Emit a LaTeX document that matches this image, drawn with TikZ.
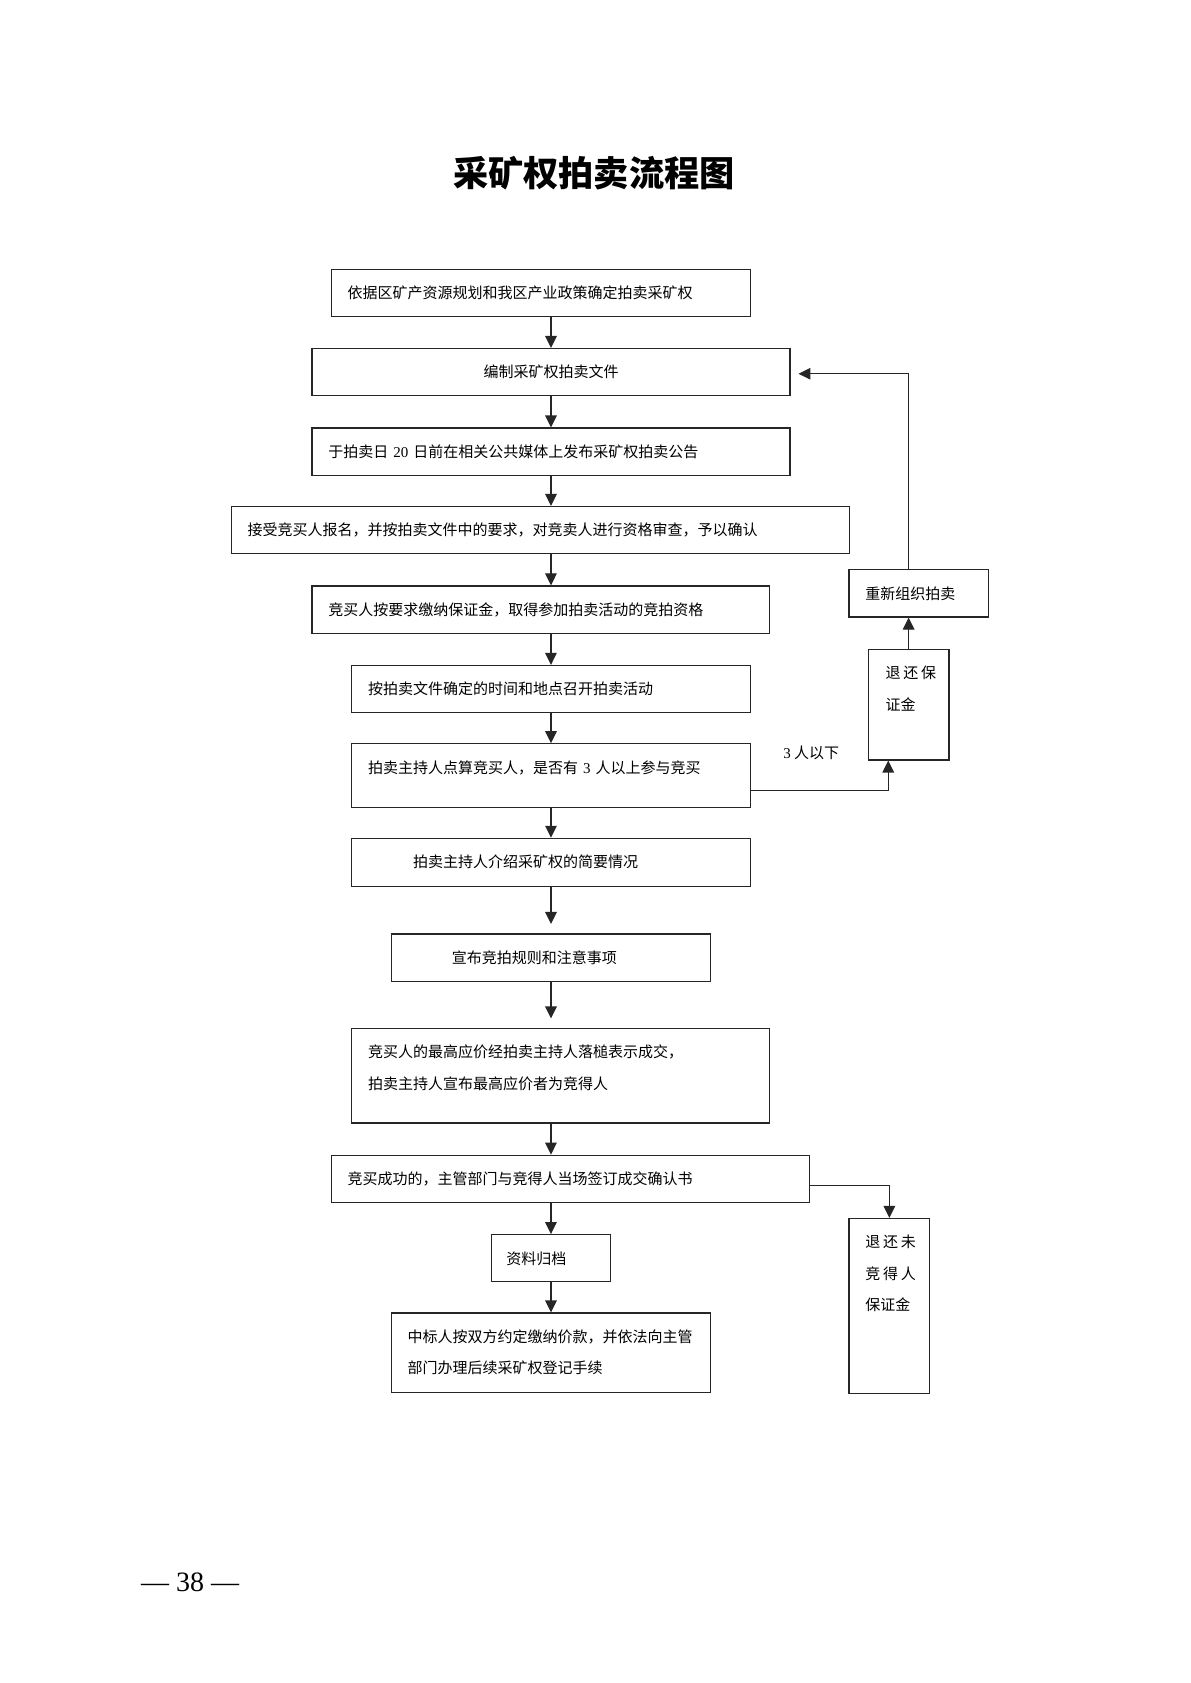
\documentclass[tikz,border=0pt]{standalone}
\usepackage{fontspec}
\setmainfont{Liberation Serif}
\newfontfamily\cjk{Noto Sans CJK SC}
\newfontfamily\lat{Liberation Serif}
\usetikzlibrary{arrows.meta}
\newcommand\bodyfont{\cjk\fontsize{7.5pt}{15.7pt}\selectfont}
\tikzset{
  bx/.style={draw=black!85, line width=0.6pt, inner sep=0pt, anchor=north west, align=left, font=\bodyfont},
  one/.style={text height=14.7pt, text depth=8.9pt},
  arr/.style={-{Triangle[width=5.8pt,length=6pt]}, line width=0.6pt, draw=black!85},
}
\begin{document}
\begin{tikzpicture}[x=0.537pt, y=-0.537pt]
\fill[white] (0,0) rectangle (1108,1567);
\useasboundingbox (0,0) rectangle (1108,1567);

\node[font=\cjk\bfseries\fontsize{17.6pt}{17.6pt}\selectfont, inner sep=0pt] (title) at (553,161) {采矿权拍卖流程图};

% main column
\node[bx, one, text width=209.4pt] (b1) at (308,250) {\hspace*{8.1pt}依据区矿产资源规划和我区产业政策确定拍卖采矿权};
\node[bx, one, text width=239.0pt, align=center] (b2) at (290,324) {编制采矿权拍卖文件};
\node[bx, one, text width=239.0pt] (b3) at (290,398) {\hspace*{8.1pt}于拍卖日 {\lat 20} 日前在相关公共媒体上发布采矿权拍卖公告};
\node[bx, one, text width=308.8pt] (b4) at (215,471) {\hspace*{8.1pt}接受竞买人报名，并按拍卖文件中的要求，对竞卖人进行资格审查，予以确认};
\node[bx, one, text width=228.8pt] (b5) at (290,545) {\hspace*{8.1pt}竞买人按要求缴纳保证金，取得参加拍卖活动的竞拍资格};
\node[bx, one, text width=199.2pt] (b6) at (327,619) {\hspace*{8.1pt}按拍卖文件确定的时间和地点召开拍卖活动};
\node[bx, text width=199.2pt, text height=14.7pt, text depth=17.0pt] (b7) at (327,692) {\hspace*{8.1pt}拍卖主持人点算竞买人，是否有 {\lat 3} 人以上参与竞买};
\node[bx, text width=199.2pt, text height=14.7pt, text depth=9.5pt] (b8) at (327,780) {\hspace*{30.6pt}拍卖主持人介绍采矿权的简要情况};
\node[bx, one, text width=159.5pt] (b9) at (364,869) {\hspace*{30.1pt}宣布竞拍规则和注意事项};
\node[bx, text width=208.9pt, text height=14.7pt, text depth=32.6pt] (b10) at (327,957) {\hspace*{8.1pt}\begin{tabular}[t]{@{}l@{}}竞买人的最高应价经拍卖主持人落槌表示成交，\\拍卖主持人宣布最高应价者为竞得人\end{tabular}};
\node[bx, one, text width=239.0pt] (b11) at (308,1075) {\hspace*{8.1pt}竞买成功的，主管部门与竞得人当场签订成交确认书};
\node[bx, one, text width=59.6pt] (b12) at (457,1149) {\hspace*{7.5pt}资料归档};
\node[bx, text width=159.5pt, text height=14.5pt, text depth=25.2pt] (b13) at (364,1222) {\hspace*{8.0pt}\begin{tabular}[t]{@{}l@{}}中标人按双方约定缴纳价款，并依法向主管\\部门办理后续采矿权登记手续\end{tabular}};

% right column
\node[bx, one, text width=69.8pt] (r1) at (790,530) {\hspace*{8.1pt}重新组织拍卖};
\node[bx, text width=40.3pt, text height=14.7pt, text depth=40.6pt] (r2) at (808,604) {\hspace*{8.6pt}\begin{tabular}[t]{@{}l@{}}退\kern1.4pt 还\kern1.4pt 保\\证金\end{tabular}};
\node[bx, text width=40.3pt, text height=14.7pt, text depth=72.8pt] (r3) at (790,1134) {\hspace*{8.1pt}\begin{tabular}[t]{@{}l@{}}退\kern1.4pt 还\kern1.4pt 未\\竞\kern1.4pt 得\kern1.4pt 人\\保证金\end{tabular}};

\node[font=\bodyfont, anchor=west, inner sep=0pt] (lbl) at (729,701) {{\lat 3} 人以下};

\node[font=\lat\fontsize{14pt}{14pt}\selectfont, inner sep=0pt] (pg) at (177,1473) {— 38 —};

% connectors
\coordinate (sp) at (513,0);
\coordinate (vx) at (846,0);
\coordinate (vz) at (827,0);
\coordinate (vy) at (0,348);
\coordinate (y7) at (0,736);
\coordinate (y11) at (0,1104);

\draw[arr] (b1.south -| sp) -- (b2.north -| sp);
\draw[arr] (b2.south -| sp) -- (b3.north -| sp);
\draw[arr] (b3.south -| sp) -- (b4.north -| sp);
\draw[arr] (b4.south -| sp) -- (b5.north -| sp);
\draw[arr] (b5.south -| sp) -- (b6.north -| sp);
\draw[arr] (b6.south -| sp) -- (b7.north -| sp);
\draw[arr] (b7.south -| sp) -- (b8.north -| sp);
\draw[arr, shorten >=4.7pt] (b8.south -| sp) -- (b9.north -| sp);
\draw[arr, shorten >=4.7pt] (b9.south -| sp) -- (b10.north -| sp);
\draw[arr] (b10.south -| sp) -- (b11.north -| sp);
\draw[arr] (b11.south -| sp) -- (b12.north -| sp);
\draw[arr] (b12.south -| sp) -- (b13.north -| sp);

\draw[arr] (b7.east |- y7) -| (r2.south -| vz);
\draw[arr] (r2.north -| vx) -- (r1.south -| vx);
\draw[arr, shorten >=3.9pt] (r1.north -| vx) |- (b2.east |- vy);
\draw[arr] (b11.east |- y11) -| (r3.north);
\end{tikzpicture}
\end{document}
